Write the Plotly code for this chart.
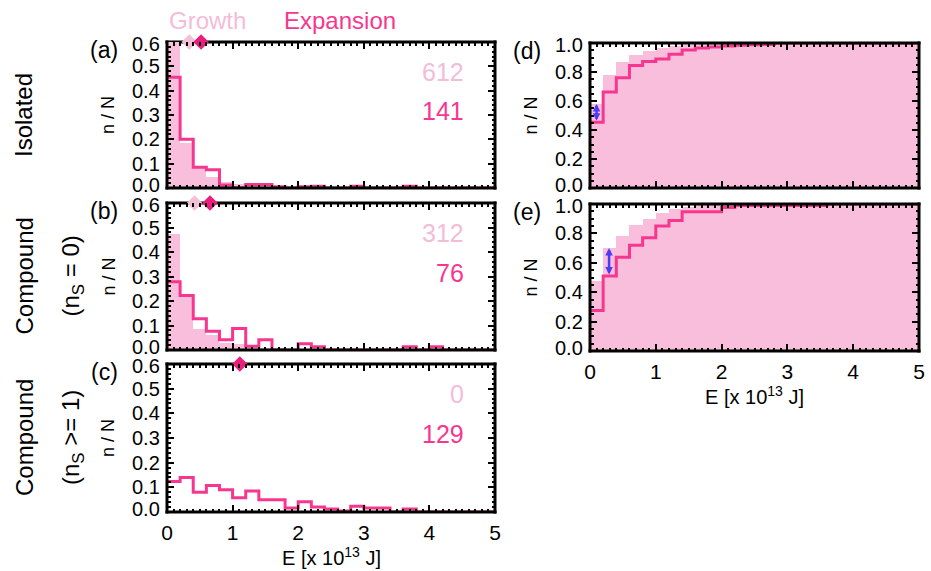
import plotly.graph_objects as go

# ---------------- data ----------------
E_EDGES = [0.0, 0.2, 0.4, 0.6, 0.8, 1.0, 1.2, 1.4, 1.6, 1.8, 2.0, 2.2, 2.4,
           2.6, 2.8, 3.0, 3.2, 3.4, 3.6, 3.8, 4.0, 4.2, 4.4, 4.6, 4.8]
E_END = 5.0
BIN_W = 0.2

# (a) Isolated : n/N histograms
HIST_GROWTH_A = [0.60, 0.185, 0.085, 0.045, 0.025, 0.017, 0.014, 0.008, 0.005, 0.004,
                 0.003, 0.002, 0.002, 0.0, 0.001, 0.0, 0.0, 0.0, 0.0, 0.0,
                 0.0, 0.0, 0.0, 0.0, 0.0]
HIST_EXP_A = [0.455, 0.200, 0.085, 0.075, 0.012, 0.0, 0.014, 0.014, 0.005, 0.0,
              0.005, 0.007, 0.0, 0.0, 0.007, 0.0, 0.0, 0.0, 0.007, 0.0,
              0.0, 0.0, 0.0, 0.0, 0.0]
# (b) Compound nS = 0
HIST_GROWTH_B = [0.474, 0.215, 0.086, 0.060, 0.030, 0.026, 0.015, 0.010, 0.006, 0.004,
                 0.003, 0.002, 0.002, 0.001, 0.0, 0.0, 0.0, 0.0, 0.0, 0.0,
                 0.0, 0.0, 0.0, 0.0, 0.0]
HIST_EXP_B = [0.279, 0.222, 0.128, 0.077, 0.042, 0.088, 0.015, 0.042, 0.0, 0.0,
              0.026, 0.013, 0.0, 0.0, 0.0, 0.0, 0.0, 0.0, 0.013, 0.0,
              0.013, 0.0, 0.0, 0.0, 0.0]
# (c) Compound nS >= 1
HIST_GROWTH_C = [0.0] * 25
HIST_EXP_C = [0.124, 0.140, 0.080, 0.107, 0.090, 0.058, 0.085, 0.050, 0.050, 0.016,
              0.042, 0.020, 0.012, 0.004, 0.023, 0.016, 0.016, 0.0, 0.012, 0.0,
              0.0, 0.0, 0.0, 0.0, 0.0]
# (d), (e) cumulative n/N
CDF_GROWTH_D = [0.58, 0.778, 0.867, 0.92, 0.947, 0.964, 0.98, 0.988, 0.993, 0.996,
                0.998, 1.0, 1.0, 1.0, 1.0, 1.0, 1.0, 1.0, 1.0, 1.0,
                1.0, 1.0, 1.0, 1.0, 1.0]
CDF_EXP_D = [0.453, 0.662, 0.76, 0.845, 0.872, 0.89, 0.922, 0.952, 0.966, 0.972,
             0.98, 0.985, 0.988, 0.99, 1.0, 1.0, 1.0, 1.0, 1.0, 1.0,
             1.0, 1.0, 1.0, 1.0, 1.0]
CDF_GROWTH_E = [0.476, 0.70, 0.785, 0.86, 0.90, 0.937, 0.965, 0.98, 0.99, 0.995,
                1.0, 1.0, 1.0, 1.0, 1.0, 1.0, 1.0, 1.0, 1.0, 1.0,
                1.0, 1.0, 1.0, 1.0, 1.0]
CDF_EXP_E = [0.276, 0.51, 0.637, 0.72, 0.77, 0.85, 0.888, 0.948, 0.948, 0.948,
             0.977, 0.99, 0.99, 0.99, 0.99, 0.99, 0.99, 0.99, 1.0, 1.0,
             1.0, 1.0, 1.0, 1.0, 1.0]

MEAN_GROWTH = [0.34, 0.42, None]
MEAN_EXP = [0.52, 0.655, 1.11]
COUNT_GROWTH = ["612", "312", "0"]
COUNT_EXP = ["141", "76", "129"]
KS_X = [0.10, 0.29]
KS_LO = [0.453, 0.51]
KS_HI = [0.58, 0.70]

Y_TICKS_HIST = [0.0, 0.1, 0.2, 0.3, 0.4, 0.5, 0.6]
Y_TICKS_CDF = [0.0, 0.2, 0.4, 0.6, 0.8, 1.0]

PANEL_TAGS = ["(a)", "(b)", "(c)", "(d)", "(e)"]
ROW_LABELS = ["Isolated", "Compound", "Compound"]
ROW_SUBLABELS = [None, "(n<sub>S</sub> = 0)", "(n<sub>S</sub> >= 1)"]
X_TITLE = "E [x 10<sup>13</sup> J]"
Y_TITLE = "n / N"

# ---------------- style ----------------
LIGHT = "#F9BEDC"
LIGHT_TXT = "#F4BCD6"
LIGHT_DIAM = "#F2C0D7"
PINK = "#F7378F"
DARK_DIAM = "#E91E7F"
BLUE = "#4B3DF5"
FONT = "Liberation Sans, Arial, sans-serif"

W, H = 931, 571


def fx(p):
    return p / W


def fy(p):
    return 1 - p / H


LEFT = [fx(167), fx(495)]
RIGHT = [fx(590), fx(919)]
PANELS = [(LEFT, 42, 188), (LEFT, 203, 350), (LEFT, 364, 512),
          (RIGHT, 43, 188), (RIGHT, 204, 351)]

fig = go.Figure()
layout = dict(width=W, height=H,
              margin=dict(l=0, r=0, t=0, b=0, pad=0, autoexpand=False),
              paper_bgcolor="white", plot_bgcolor="white", showlegend=False,
              bargap=0, font=dict(family=FONT, color="black"))
shapes = []
annotations = []


def text_ann(text, x, y, size, color="black", angle=0, xref="paper", yref="paper",
             xanchor="center", xshift=0, yshift=0):
    return dict(text=text, x=x, y=y, xref=xref, yref=yref, xanchor=xanchor,
                yanchor="middle", textangle=angle, showarrow=False,
                xshift=xshift, yshift=yshift,
                font=dict(size=size, color=color, family=FONT))


for i, (xd, ytop, ybot) in enumerate(PANELS):
    n = i + 1
    xa = "x" if n == 1 else f"x{n}"
    ya = "y" if n == 1 else f"y{n}"
    right = i >= 3
    bottom_row = i in (2, 4)
    yticks = Y_TICKS_CDF if right else Y_TICKS_HIST
    ymax = yticks[-1]
    layout["xaxis" if n == 1 else f"xaxis{n}"] = dict(
        domain=xd, anchor=ya, range=[0, E_END], showgrid=False, zeroline=False,
        showline=False, mirror="allticks", ticks="inside", ticklen=7, tickwidth=2,
        tickcolor="black", tick0=0, dtick=1, automargin=False,
        minor=dict(ticks="inside", ticklen=3.5, tickwidth=1.5, tickcolor="black", dtick=0.1),
        showticklabels=bottom_row, tickfont=dict(size=21, color="black", family=FONT),
        ticklabelstandoff=6, fixedrange=True)
    layout["yaxis" if n == 1 else f"yaxis{n}"] = dict(
        domain=[fy(ybot), fy(ytop)], anchor=xa, range=[0, ymax], showgrid=False,
        zeroline=False, showline=False, mirror="allticks", ticks="inside", ticklen=7,
        tickwidth=2, tickcolor="black", tickvals=yticks,
        automargin=False, showticklabels=False,
        minor=dict(ticks="inside", ticklen=3.5, tickwidth=1.5, tickcolor="black",
                   dtick=0.05 if right else 0.02),
        fixedrange=True)

    # y tick labels (end labels nudged inside the frame, as in the original)
    for j, v in enumerate(yticks):
        ys = 3 if j == 0 else (-2 if j == len(yticks) - 1 else 0)
        annotations.append(text_ann(f"{v:.1f}", 0, v, 20, xref=f"{xa} domain", yref=ya,
                                    xanchor="right", xshift=-5, yshift=ys))

    if right:
        g = CDF_GROWTH_D if i == 3 else CDF_GROWTH_E
        e = CDF_EXP_D if i == 3 else CDF_EXP_E
    else:
        g = [HIST_GROWTH_A, HIST_GROWTH_B, HIST_GROWTH_C][i]
        e = [HIST_EXP_A, HIST_EXP_B, HIST_EXP_C][i]

    fig.add_trace(go.Bar(x=E_EDGES, y=g, width=BIN_W, offset=0, marker_color=LIGHT,
                         marker_line_width=0, xaxis=xa, yaxis=ya))
    fig.add_trace(go.Scatter(x=E_EDGES + [E_END], y=e + [e[-1]], mode="lines",
                             line=dict(color=PINK, width=3, shape="hv"),
                             xaxis=xa, yaxis=ya))
    if not right:
        if MEAN_GROWTH[i] is not None:
            fig.add_trace(go.Scatter(x=[MEAN_GROWTH[i]], y=[ymax], mode="markers",
                                     marker=dict(symbol="diamond", size=12, color=LIGHT_DIAM),
                                     cliponaxis=False, xaxis=xa, yaxis=ya))
        fig.add_trace(go.Scatter(x=[MEAN_EXP[i]], y=[ymax], mode="markers",
                                 marker=dict(symbol="diamond", size=12, color=DARK_DIAM),
                                 cliponaxis=False, xaxis=xa, yaxis=ya))
        annotations.append(text_ann(COUNT_GROWTH[i], 0.912, 0.795, 25, LIGHT_TXT,
                                    xref=f"{xa} domain", yref=f"{ya} domain", xanchor="right"))
        annotations.append(text_ann(COUNT_EXP[i], 0.912, 0.527, 25, PINK,
                                    xref=f"{xa} domain", yref=f"{ya} domain", xanchor="right"))
        annotations.append(text_ann(ROW_LABELS[i], fx(24), fy((ytop + ybot) / 2), 24,
                                    angle=-90))
        if ROW_SUBLABELS[i]:
            annotations.append(text_ann(ROW_SUBLABELS[i], fx(72), fy((ytop + ybot) / 2), 24,
                                        angle=-90))
    else:
        k = i - 3
        annotations.append(dict(text="", x=KS_X[k], y=KS_HI[k], ax=KS_X[k], ay=KS_LO[k],
                                xref=xa, yref=ya, axref=xa, ayref=ya, showarrow=True,
                                arrowside="end+start", arrowhead=2, arrowsize=0.6,
                                arrowwidth=2.5, arrowcolor=BLUE, standoff=0, startstandoff=0))

    lab_x = 527 if right else 104
    annotations.append(text_ann(PANEL_TAGS[i], fx(lab_x), fy(ytop + 8), 23))
    annotations.append(text_ann(Y_TITLE, fx(lab_x + 4), fy((ytop + ybot) / 2), 18,
                                angle=-90))
    if bottom_row:
        annotations.append(text_ann(X_TITLE, 0.5, fy(ybot + 44), 20, xref=f"{xa} domain"))

    # frame
    px_w = (xd[1] - xd[0]) * W
    px_h = ybot - ytop
    ex = 1.5 / px_w
    ey = 1.5 / px_h
    top_layer = "above" if right else "below"
    for (x0, y0, x1, y1, lay) in [(-ex, 0, 1 + ex, 0, "above"), (0, -ey, 0, 1 + ey, "above"),
                                   (1, -ey, 1, 1 + ey, "above"), (-ex, 1, 1 + ex, 1, top_layer)]:
        shapes.append(dict(type="line", xref=f"{xa} domain", yref=f"{ya} domain",
                           x0=x0, y0=y0, x1=x1, y1=y1, layer=lay,
                           line=dict(color="black", width=3)))

annotations.append(text_ann("Growth", fx(207), fy(20), 24, LIGHT_TXT))
annotations.append(text_ann("Expansion", fx(340), fy(20), 24, PINK))

layout["shapes"] = shapes
layout["annotations"] = annotations
fig.update_layout(**layout)
fig.write_html("out.html", config=dict(displayModeBar=False),
               post_script="document.body.style.margin='0';document.body.style.overflow='hidden';")
